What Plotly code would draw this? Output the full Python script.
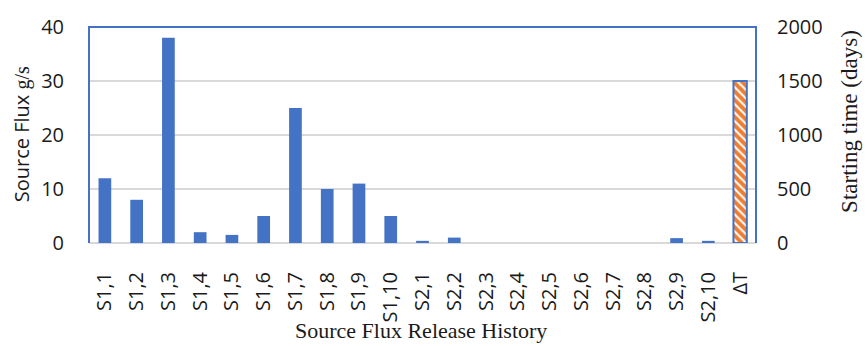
import plotly.graph_objects as go

# Source flux release history (g/s) for each release period, plus the start-time bar (days)
categories = ["S1,1", "S1,2", "S1,3", "S1,4", "S1,5", "S1,6", "S1,7", "S1,8", "S1,9", "S1,10",
              "S2,1", "S2,2", "S2,3", "S2,4", "S2,5", "S2,6", "S2,7", "S2,8", "S2,9", "S2,10", "ΔT"]
flux_values = [12, 8, 38, 2, 1.5, 5, 25, 10, 11, 5,
               0.4, 1, 0, 0, 0, 0, 0, 0, 0.9, 0.4, None]
start_category = ["ΔT"]
start_time_days = [1500]

BLUE = "#4472C4"
ORANGE = "#ED7D31"
GRID = "#D9D9D9"
TEXT = "#1a1a1a"
SANS = "Open Sans, Liberation Sans, sans-serif"
SERIF = "Liberation Serif, Times New Roman, serif"

fig = go.Figure()
fig.add_trace(go.Bar(x=categories, y=flux_values, marker=dict(color=BLUE, line=dict(width=0)),
                     width=0.4, name="Source Flux", yaxis="y"))
fig.add_trace(go.Bar(x=start_category, y=start_time_days, yaxis="y2", width=0.42,
                     marker=dict(color=ORANGE, line=dict(color=BLUE, width=2),
                                 pattern=dict(shape="\\", fgcolor="white", bgcolor=ORANGE,
                                              fillmode="replace", size=6, solidity=0.35)),
                     name="Starting time"))

fig.update_layout(
    width=867, height=346,
    margin=dict(l=89, r=111, t=27, b=103),
    plot_bgcolor="white", paper_bgcolor="white",
    barmode="overlay", showlegend=False,
    xaxis=dict(categoryorder="array", categoryarray=categories, tickangle=-90,
               tickfont=dict(family=SANS, size=20, color=TEXT),
               showgrid=False, ticks="", ticklabelstandoff=24),
    yaxis=dict(range=[0, 40], tickvals=[0, 10, 20, 30, 40], showgrid=True, gridcolor=GRID,
               gridwidth=1.5, zeroline=True, zerolinecolor=GRID, zerolinewidth=1.5,
               tickfont=dict(family=SANS, size=20, color=TEXT), ticklabelstandoff=24),
    yaxis2=dict(range=[0, 2000], tickvals=[0, 500, 1000, 1500, 2000], overlaying="y",
                side="right", showgrid=False, zeroline=False,
                tickfont=dict(family=SANS, size=20, color=TEXT), ticklabelstandoff=20),
    shapes=[dict(type="path", xref="paper", yref="paper", path="M0,0 L0,1 L1,1 L1,0",
                 line=dict(color=BLUE, width=2), layer="above")],
    annotations=[
        dict(text="Source Flux Release History", xref="paper", yref="paper",
             x=0.4985, y=-0.405, xanchor="center", yanchor="middle", showarrow=False,
             font=dict(family=SERIF, size=22, color=TEXT)),
        dict(text="Source Flux <span style='font-family:Liberation Serif'>g/s</span>",
             xref="paper", yref="paper", x=-0.1, y=0.505, xanchor="center", yanchor="middle",
             textangle=-90, showarrow=False, font=dict(family=SANS, size=20, color=TEXT)),
        dict(text="Starting time (days)", xref="paper", yref="paper",
             x=1.14, y=0.5625, xanchor="center", yanchor="middle",
             textangle=-90, showarrow=False, font=dict(family=SERIF, size=23, color=TEXT)),
    ],
)

fig.write_html("out.html")
